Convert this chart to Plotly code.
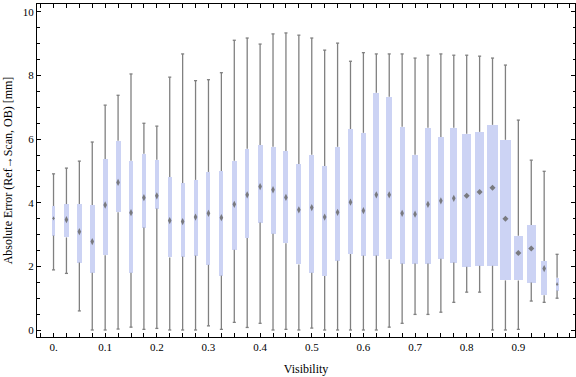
import plotly.graph_objects as go

# ---- data ----
visibility = [0.000, 0.025, 0.050, 0.075, 0.100, 0.125, 0.150, 0.175, 0.200, 0.225,
              0.250, 0.275, 0.300, 0.325, 0.350, 0.375, 0.400, 0.425, 0.450, 0.475,
              0.500, 0.525, 0.550, 0.575, 0.600, 0.625, 0.650, 0.675, 0.700, 0.725,
              0.750, 0.775, 0.800, 0.825, 0.850, 0.875, 0.900, 0.925, 0.950, 0.975]
whisker_low = [1.89, 1.78, 0.60, 0.00, 0.00, 0.03, 0.09, 0.02, 0.05, 0.00,
               0.00, 0.00, 0.13, 0.02, 0.24, 0.08, 0.21, 0.00, 0.02, 0.00,
               0.06, 0.00, 0.00, 0.00, 0.00, 0.00, 0.09, 0.21, 0.49, 0.49,
               0.56, 0.87, 1.19, 1.19, 0.00, 0.00, 0.02, 0.91, 0.87, 1.00]
q1 = [2.97, 2.91, 2.12, 1.80, 2.35, 3.70, 1.80, 3.22, 3.82, 2.28,
      2.31, 2.34, 2.05, 1.71, 2.52, 2.89, 3.38, 3.03, 2.73, 2.06,
      1.80, 1.70, 2.18, 2.39, 2.34, 2.34, 2.22, 2.09, 2.09, 2.09,
      2.24, 2.12, 1.99, 2.02, 2.02, 1.56, 1.56, 1.49, 1.09, 1.24]
median = [3.51, 3.47, 3.09, 2.78, 3.93, 4.64, 3.69, 4.16, 4.22, 3.44,
          3.41, 3.55, 3.67, 3.53, 3.95, 4.25, 4.51, 4.41, 4.17, 3.78,
          3.85, 3.55, 3.70, 4.02, 3.75, 4.25, 4.25, 3.67, 3.64, 3.95,
          4.06, 4.14, 4.22, 4.34, 4.47, 3.50, 2.42, 2.56, 1.93, 1.44]
q3 = [3.90, 3.96, 3.96, 3.93, 5.38, 5.95, 5.32, 5.54, 5.35, 4.81,
      4.62, 4.72, 4.97, 5.00, 5.32, 5.70, 5.82, 5.76, 5.63, 5.22,
      5.51, 5.16, 5.76, 6.32, 6.20, 7.46, 7.33, 6.39, 5.51, 6.36,
      6.07, 6.36, 6.17, 6.23, 6.45, 5.98, 2.96, 3.30, 2.17, 1.64]
whisker_high = [4.91, 5.09, 5.31, 5.91, 7.07, 7.38, 8.05, 6.50, 6.41, 7.95,
                8.68, 7.84, 7.87, 8.09, 9.11, 9.18, 8.99, 9.31, 9.34, 9.27,
                9.18, 8.80, 9.02, 8.45, 8.72, 8.68, 8.68, 8.68, 8.55, 8.64,
                8.68, 8.64, 8.64, 8.61, 8.55, 8.33, 6.60, 5.34, 4.99, 2.38]
# relative box widths (style; the original chart scales box width per bin)
rel_width = [3, 5, 5, 5, 5, 5, 4, 4, 4, 4,
             4, 4, 4, 4, 4.5, 4.5, 5, 5, 5, 5,
             5, 5, 5, 5, 5, 6, 6, 5, 6, 6,
             6, 7, 9, 9, 11, 11, 9, 9, 6, 3]

x_ticks = [0.0, 0.1, 0.2, 0.3, 0.4, 0.5, 0.6, 0.7, 0.8, 0.9]
x_tick_text = ["0.", "0.1", "0.2", "0.3", "0.4", "0.5", "0.6", "0.7", "0.8", "0.9"]
y_ticks = [0, 2, 4, 6, 8, 10]

# ---- styling ----
X_RANGE = [-0.032, 1.0097]
Y_RANGE = [-0.22, 10.25]
PLOT_W_PX = 538.0
px_to_x = (X_RANGE[1] - X_RANGE[0]) / PLOT_W_PX
widths = [w * px_to_x for w in rel_width]

BOX_COLOR = "#ccd3f4"
WHISK_COLOR = "#808080"
MED_COLOR = "#6a6a6a"
FONT = "Liberation Serif"

fig = go.Figure()

# boxes (Q1..Q3)
fig.add_trace(go.Bar(
    x=visibility, y=[b - a for a, b in zip(q1, q3)], base=q1, width=widths,
    marker=dict(color=BOX_COLOR, line=dict(width=0)), showlegend=False,
    hoverinfo="skip"))

# whisker lines
wx, wy = [], []
for xv, lo, a, b, hi in zip(visibility, whisker_low, q1, q3, whisker_high):
    wx += [xv, xv, None, xv, xv, None]
    wy += [b, hi, None, lo, a, None]
fig.add_trace(go.Scatter(x=wx, y=wy, mode="lines",
                         line=dict(color=WHISK_COLOR, width=1.3),
                         showlegend=False, hoverinfo="skip"))

# whisker caps
fig.add_trace(go.Scatter(
    x=visibility + visibility, y=whisker_high + whisker_low, mode="markers",
    marker=dict(symbol="line-ew", size=2.2, line=dict(color=WHISK_COLOR, width=1.3)),
    showlegend=False, hoverinfo="skip"))

# medians (diamonds)
sym = ["diamond" if w >= 9 else "diamond-tall" for w in rel_width]
msize = [4.6 if w >= 9 else (3 if w <= 3 else 5.2) for w in rel_width]
fig.add_trace(go.Scatter(
    x=visibility, y=median, mode="markers",
    marker=dict(symbol=sym, size=msize, color=MED_COLOR, opacity=0.85,
                line=dict(width=0)),
    showlegend=False, hoverinfo="skip"))

tickfont = dict(family=FONT, size=11, color="black")
fig.update_xaxes(
    range=X_RANGE, showline=True, linecolor="black", linewidth=1, mirror="ticks",
    ticks="inside", ticklen=4, tickwidth=1, tickcolor="black",
    tickmode="array", tickvals=x_ticks, ticktext=x_tick_text,
    minor=dict(tick0=0, dtick=0.025, ticks="inside", ticklen=4, tickwidth=1,
               tickcolor="black", showgrid=False),
    showgrid=False, zeroline=False, tickfont=tickfont,
    title=dict(text="Visibility", font=dict(family=FONT, size=12, color="black"),
               standoff=12))
fig.update_yaxes(
    range=Y_RANGE, showline=True, linecolor="black", linewidth=1, mirror="ticks",
    ticks="inside", ticklen=4, tickwidth=1, tickcolor="black",
    tickmode="array", tickvals=y_ticks,
    minor=dict(tick0=0, dtick=0.5, ticks="inside", ticklen=2.5, tickwidth=1,
               tickcolor="black", showgrid=False),
    showgrid=False, zeroline=False, tickfont=tickfont,
    title=dict(text="Absolute Error (Ref\u2192Scan, OB) [mm]",
               font=dict(family=FONT, size=12, color="black"), standoff=7))

fig.update_layout(
    width=576, height=377,
    margin=dict(l=37, r=1, t=4, b=40, autoexpand=False),
    plot_bgcolor="white", paper_bgcolor="white",
    bargap=0, barmode="overlay",
)

fig.write_html("out.html", config={"displayModeBar": False},
               post_script="document.body.style.margin='0';")
